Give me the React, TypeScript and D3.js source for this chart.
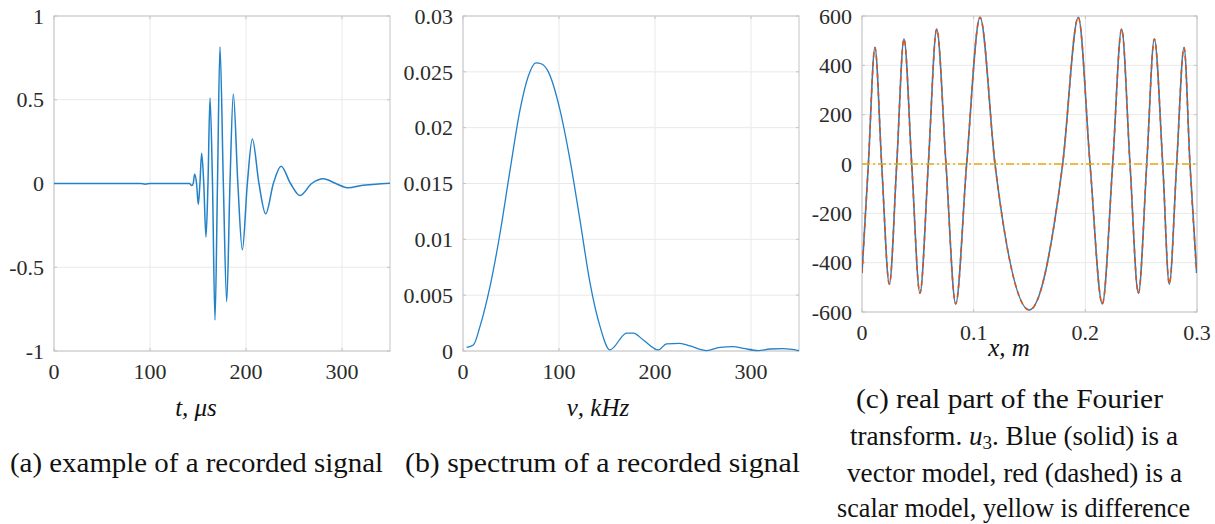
import React from 'react';
import * as d3 from 'd3';

// ---------- data ----------
// (a) recorded signal
const sigT = [0, 90, 95, 100, 141, 143.5, 145, 146.5, 148.5, 150.3, 152, 153.8, 156, 158.3, 160.4, 162.5, 165.1, 167.7, 170.3, 172.9, 176.4, 179.9, 183.3, 186.8, 191.5, 196.2, 201.4, 206.6, 213.5, 220.5, 228.5, 236.5, 246.4, 256.3, 268.4, 280.5, 293.5, 306.6, 320, 335, 350];
const sigV = [0, 0, -0.004, 0, 0, -0.012, 0, 0.055, 0, -0.125, 0, 0.18, 0, -0.32, 0, 0.51, 0, -0.815, 0, 0.815, 0, -0.705, 0, 0.535, 0, -0.396, 0, 0.265, 0, -0.181, 0, 0.103, 0, -0.072, 0, 0.028, 0, -0.026, -0.012, -0.004, 0.002];

// (b) spectrum
const specF = [3.8, 10.8, 17.7, 28.1, 38.5, 49, 59.4, 68, 76, 82, 88.9, 101, 111.5, 121.9, 132.3, 142.7, 153, 170.5, 177.4, 187.8, 203.5, 212, 226, 236.5, 253.8, 267.7, 281.6, 292, 307.6, 319.8, 333.7, 350];
const specA = [0.00033, 0.00054, 0.0022, 0.00576, 0.0105, 0.0162, 0.0216, 0.0246, 0.0258, 0.0257, 0.025, 0.0216, 0.0171, 0.0117, 0.0061, 0.0022, 0.0001, 0.0016, 0.0016, 0.00099, 0.0001, 0.00063, 0.00069, 0.00045, 0.00003, 0.00033, 0.00039, 0.00024, 0.00003, 0.00018, 0.00021, 0.00003];

// (c) real part of the Fourier transform, u3
const fxX = [0, 0.0057, 0.0116, 0.0176, 0.0245, 0.0311, 0.0376, 0.0445, 0.0519, 0.0594, 0.0669, 0.0752, 0.0839, 0.0937, 0.1057, 0.1191, 0.1499, 0.1797, 0.1937, 0.2042, 0.2152, 0.2245, 0.2325, 0.24, 0.2475, 0.255, 0.2618, 0.2693, 0.2752, 0.2818, 0.2884, 0.2937, 0.2997];
const fxVector = [-442, 0, 472, 0, -487, 0, 507, 0, -524, 0, 547, 0, -567, 0, 595, 0, -592, 0, 595, 0, -567, 0, 547, 0, -524, 0, 507, 0, -487, 0, 472, 0, -442];
const fxScalar = [-442, 0, 472, 0, -487, 0, 507, 0, -524, 0, 547, 0, -567, 0, 595, 0, -592, 0, 595, 0, -567, 0, 547, 0, -524, 0, 507, 0, -487, 0, 472, 0, -442];
const diffX = [0, 0.1, 0.2, 0.3];
const diffV = [0, 0, 0, 0];

// ticks
const aXTicks = [0, 100, 200, 300];
const aXLabels = ['0', '100', '200', '300'];
const aYTicks = [-1, -0.5, 0, 0.5, 1];
const aYLabels = ['-1', '-0.5', '0', '0.5', '1'];
const bXTicks = [0, 100, 200, 300];
const bXLabels = ['0', '100', '200', '300'];
const bYTicks = [0, 0.005, 0.01, 0.015, 0.02, 0.025, 0.03];
const bYLabels = ['0', '0.005', '0.01', '0.015', '0.02', '0.025', '0.03'];
const cXTicks = [0, 0.1, 0.2, 0.3];
const cXLabels = ['0', '0.1', '0.2', '0.3'];
const cYTicks = [-600, -400, -200, 0, 200, 400, 600];
const cYLabels = ['-600', '-400', '-200', '0', '200', '400', '600'];

// ---------- drawing ----------
type Series = { xs: number[]; ys: number[]; color: string; width: number; dash?: string };

const SERIF = 'Liberation Serif';

function Panel(props: {
  id: string;
  left: number; right: number; top: number; bottom: number;
  xDomain: [number, number]; yDomain: [number, number];
  xTicks: number[]; xLabels: string[]; yTicks: number[]; yLabels: string[];
  series: Series[];
}) {
  const { id, left, right, top, bottom } = props;
  const x = d3.scaleLinear().domain(props.xDomain).range([left, right]);
  const y = d3.scaleLinear().domain(props.yDomain).range([bottom, top]);
  const grid = '#e9e9e9';
  const box = '#c4c4c4';
  return (
    <g>
      <defs>
        <clipPath id={id}>
          <rect x={left} y={top - 2} width={right - left} height={bottom - top + 4} />
        </clipPath>
      </defs>
      {props.xTicks.map((t, i) => (
        <line key={'gx' + i} x1={x(t)} x2={x(t)} y1={top} y2={bottom} stroke={grid} strokeWidth={1} />
      ))}
      {props.yTicks.map((t, i) => (
        <line key={'gy' + i} x1={left} x2={right} y1={y(t)} y2={y(t)} stroke={grid} strokeWidth={1} />
      ))}
      <rect x={left} y={top} width={right - left} height={bottom - top} fill="none" stroke={box} strokeWidth={1} />
      {props.xTicks.map((t, i) => (
        <g key={'tx' + i}>
          <line x1={x(t)} x2={x(t)} y1={bottom} y2={bottom - 3} stroke={box} />
          <line x1={x(t)} x2={x(t)} y1={top} y2={top + 3} stroke={box} />
        </g>
      ))}
      {props.yTicks.map((t, i) => (
        <g key={'ty' + i}>
          <line x1={left} x2={left + 3} y1={y(t)} y2={y(t)} stroke={box} />
          <line x1={right} x2={right - 3} y1={y(t)} y2={y(t)} stroke={box} />
        </g>
      ))}
      <g clipPath={`url(#${id})`}>
        {props.series.map((s, i) => {
          const pts = s.xs.map((v, k) => [v, s.ys[k]] as [number, number]);
          const path = d3
            .line<[number, number]>()
            .x((d) => x(d[0]))
            .y((d) => y(d[1]))
            .curve(d3.curveMonotoneX)(pts);
          return (
            <path key={'s' + i} d={path || ''} fill="none" stroke={s.color} strokeWidth={s.width}
              strokeDasharray={s.dash} strokeLinejoin="round" />
          );
        })}
      </g>
      {props.xTicks.map((t, i) => (
        <text key={'lx' + i} x={x(t)} y={bottom + 28} textAnchor="middle" fontFamily={SERIF}
          fontSize={22} fill="#2b2b2b">{props.xLabels[i]}</text>
      ))}
      {props.yTicks.map((t, i) => (
        <text key={'ly' + i} x={left - 10} y={y(t)} dy="0.35em" textAnchor="end" fontFamily={SERIF}
          fontSize={22} fill="#2b2b2b">{props.yLabels[i]}</text>
      ))}
    </g>
  );
}

export default function App() {
  const blue = '#2281c8';
  const cap = { fontFamily: SERIF, fontSize: 27, fill: '#111' };
  const lab = { fontFamily: SERIF, fontSize: 25, fill: '#111', fontStyle: 'italic' };
  return (
    <svg width={1215} height={524} style={{ position: 'absolute', left: 0, top: 0, background: '#fff' }}>
      <rect x={0} y={0} width={1215} height={524} fill="#fff" />
      <Panel id="clipA" left={54} right={390} top={16} bottom={351}
        xDomain={[0, 350]} yDomain={[-1, 1]}
        xTicks={aXTicks} xLabels={aXLabels} yTicks={aYTicks} yLabels={aYLabels}
        series={[{ xs: sigT, ys: sigV, color: blue, width: 1.5 }]} />
      <Panel id="clipB" left={463} right={799} top={16} bottom={351}
        xDomain={[0, 350]} yDomain={[0, 0.03]}
        xTicks={bXTicks} xLabels={bXLabels} yTicks={bYTicks} yLabels={bYLabels}
        series={[{ xs: specF, ys: specA, color: blue, width: 1.3 }]} />
      <Panel id="clipC" left={862} right={1197} top={16} bottom={312}
        xDomain={[0, 0.3]} yDomain={[-600, 600]}
        xTicks={cXTicks} xLabels={cXLabels} yTicks={cYTicks} yLabels={cYLabels}
        series={[
          { xs: fxX, ys: fxVector, color: '#2a7fc0', width: 1.6 },
          { xs: fxX, ys: fxScalar, color: '#d9541a', width: 1.6, dash: '5,4' },
          { xs: diffX, ys: diffV, color: '#e3ac10', width: 1.6, dash: '8,3,2,3' },
        ]} />

      {/* axis labels */}
      <text x={196} y={416} textAnchor="middle" {...lab}>t, μs</text>
      <text x={598} y={416} textAnchor="middle" {...lab}>ν, kHz</text>
      <text x={1009} y={356} textAnchor="middle" {...lab}>x, m</text>

      {/* captions */}
      <text x={10} y={472} {...cap} textLength={373} lengthAdjust="spacingAndGlyphs">(a) example of a recorded signal</text>
      <text x={405} y={472} {...cap} textLength={395} lengthAdjust="spacingAndGlyphs">(b) spectrum of a recorded signal</text>
      <text x={856} y={408} {...cap} textLength={307} lengthAdjust="spacingAndGlyphs">(c) real part of the Fourier</text>
      <text x={850} y={445} {...cap} textLength={328} lengthAdjust="spacingAndGlyphs">
        transform. <tspan fontStyle="italic">u</tspan><tspan fontSize={19} dy={4}>3</tspan><tspan dy={-4}>. Blue (solid) is a</tspan>
      </text>
      <text x={847} y={482} {...cap} textLength={335} lengthAdjust="spacingAndGlyphs">vector model, red (dashed) is a</text>
      <text x={837} y={517} {...cap} textLength={353} lengthAdjust="spacingAndGlyphs">scalar model, yellow is difference</text>
    </svg>
  );
}
